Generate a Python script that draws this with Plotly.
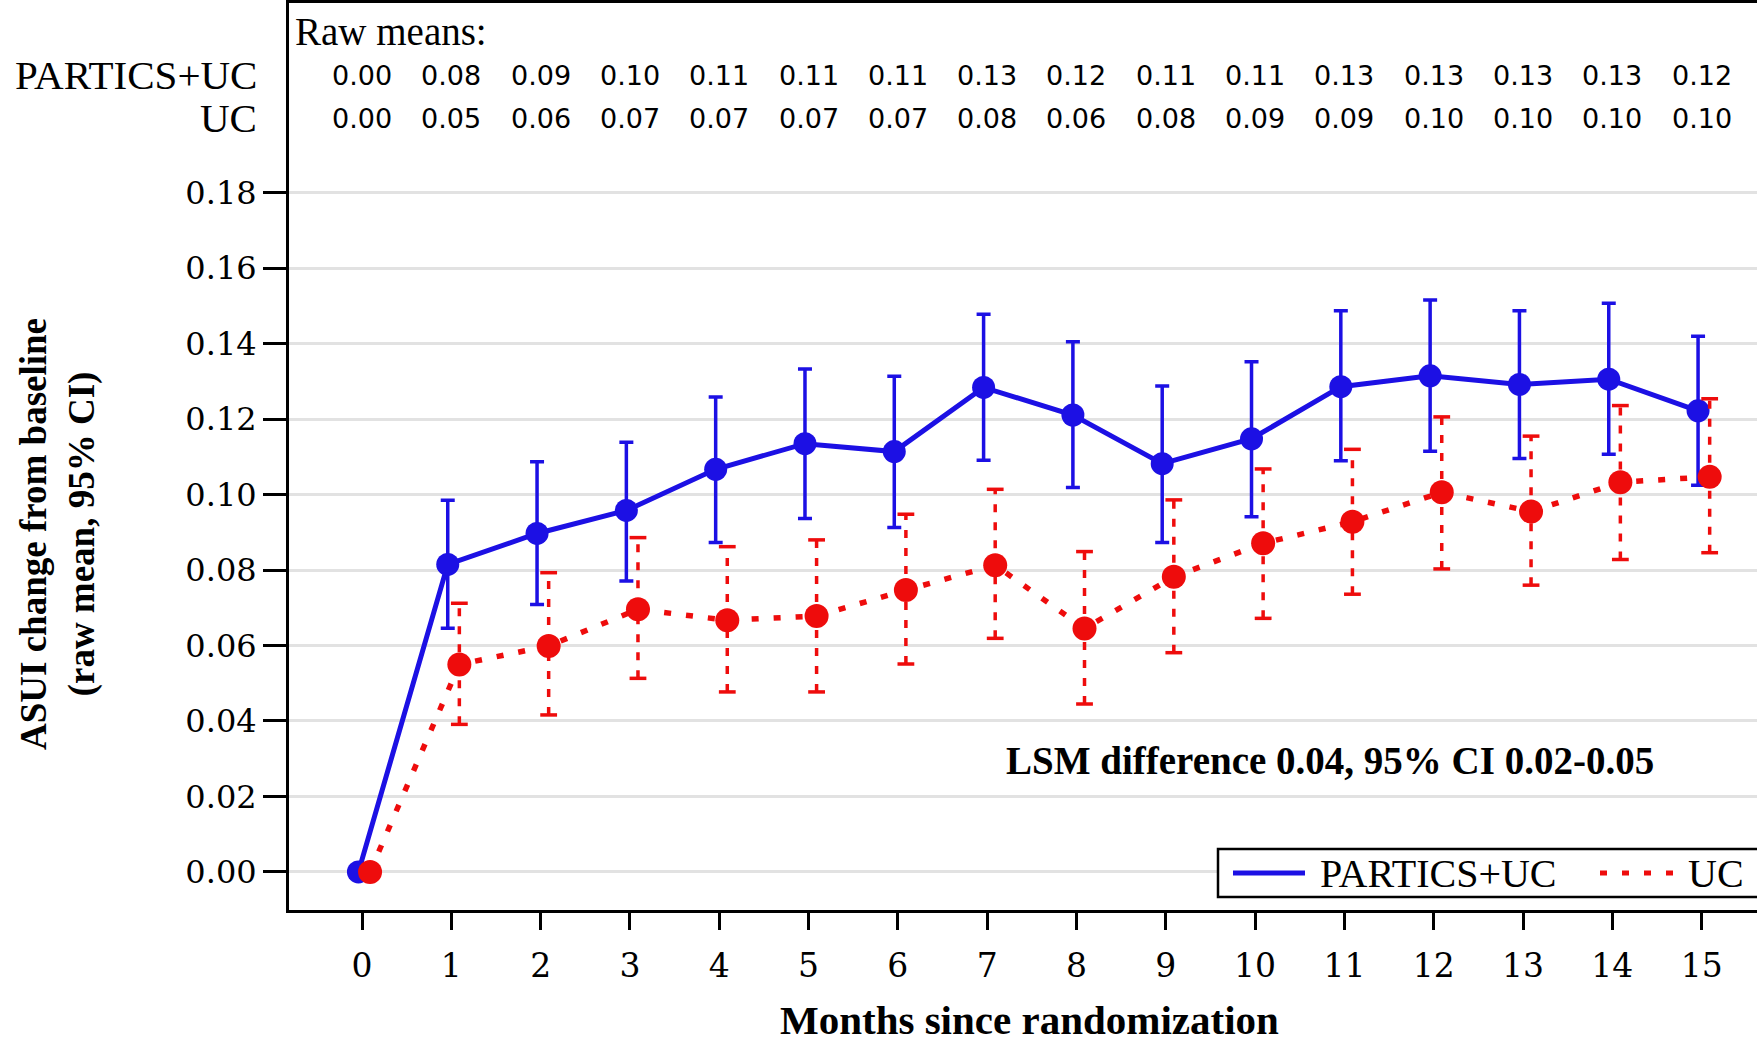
import plotly.graph_objects as go

# ---------------- data ----------------
months = list(range(16))
x_tick_labels = [str(m) for m in months]

partics_mean = [0.000, 0.0815, 0.0897, 0.0958, 0.1067, 0.1135, 0.1114, 0.1284,
                0.1211, 0.1082, 0.1148, 0.1286, 0.1315, 0.1292, 0.1306, 0.1222]
partics_upper = [0.000, 0.0985, 0.1087, 0.1139, 0.1259, 0.1333, 0.1314, 0.1478,
                 0.1405, 0.1288, 0.1352, 0.1487, 0.1516, 0.1487, 0.1507, 0.1420]
partics_lower = [0.000, 0.0646, 0.0709, 0.0771, 0.0873, 0.0937, 0.0913, 0.1091,
                 0.1019, 0.0873, 0.0941, 0.1090, 0.1115, 0.1096, 0.1107, 0.1025]

uc_mean = [0.000, 0.0550, 0.0599, 0.0696, 0.0667, 0.0678, 0.0747, 0.0813,
           0.0645, 0.0782, 0.0871, 0.0928, 0.1006, 0.0955, 0.1033, 0.1047]
uc_upper = [0.000, 0.0712, 0.0793, 0.0886, 0.0862, 0.0880, 0.0948, 0.1014,
            0.0849, 0.0986, 0.1068, 0.1120, 0.1206, 0.1155, 0.1236, 0.1254]
uc_lower = [0.000, 0.0391, 0.0416, 0.0513, 0.0477, 0.0477, 0.0551, 0.0619,
            0.0445, 0.0581, 0.0672, 0.0736, 0.0803, 0.0760, 0.0828, 0.0846]

raw_partics = ["0.00", "0.08", "0.09", "0.10", "0.11", "0.11", "0.11", "0.13",
               "0.12", "0.11", "0.11", "0.13", "0.13", "0.13", "0.13", "0.12"]
raw_uc = ["0.00", "0.05", "0.06", "0.07", "0.07", "0.07", "0.07", "0.08",
          "0.06", "0.08", "0.09", "0.09", "0.10", "0.10", "0.10", "0.10"]

y_tick_values = [0.00, 0.02, 0.04, 0.06, 0.08, 0.10, 0.12, 0.14, 0.16, 0.18]
y_tick_labels = ["0.00", "0.02", "0.04", "0.06", "0.08", "0.10", "0.12", "0.14", "0.16", "0.18"]

series_names = ["PARTICS+UC", "UC"]
annotation_text = "LSM difference 0.04, 95% CI 0.02-0.05"

# ---------------- style ----------------
W, H = 1757, 1045
ML, MR, MT, MB = 289, 0, 3, 135
BLUE = "rgb(28,16,228)"
RED = "rgb(238,12,12)"
SERIF = "Liberation Serif"
TICKFONT = "DejaVu Serif"
NUMFONT = "DejaVu Sans"
OFF_BLUE, OFF_RED = -0.04, 0.09

plot_h = H - MT - MB
plot_w = W - ML - MR


def py(pix):  # pixel row -> paper y
    return (H - MB - pix) / plot_h


def px(pix):  # pixel column -> paper x
    return (pix - ML) / plot_w


fig = go.Figure()

# blue series with error bars
err_plus = [(u - m) if u != m else None for u, m in zip(partics_upper, partics_mean)]
err_minus = [(m - l) if l != m else None for l, m in zip(partics_lower, partics_mean)]
fig.add_trace(go.Scatter(
    x=[m + OFF_BLUE for m in months], y=partics_mean, mode="lines+markers",
    line=dict(color=BLUE, width=5),
    marker=dict(color=BLUE, size=23),
    error_y=dict(type="data", array=err_plus, arrayminus=err_minus,
                 color=BLUE, thickness=3.5, width=7, symmetric=False),
    showlegend=False, name=series_names[0]))

# red dashed error bars
ex, ey = [], []
cx, cy = [], []
for m, lo, hi in zip(months, uc_lower, uc_upper):
    if hi == lo:
        continue
    ex += [m + OFF_RED, m + OFF_RED, None]
    ey += [lo, hi, None]
    cx += [m + OFF_RED, m + OFF_RED]
    cy += [lo, hi]
fig.add_trace(go.Scatter(x=ex, y=ey, mode="lines",
                         line=dict(color=RED, width=3.5, dash="8px,10px"),
                         showlegend=False, hoverinfo="skip"))
fig.add_trace(go.Scatter(x=cx, y=cy, mode="markers",
                         marker=dict(symbol="line-ew", size=12,
                                     line=dict(color=RED, width=3.5)),
                         showlegend=False, hoverinfo="skip"))
fig.add_trace(go.Scatter(
    x=[m + OFF_RED for m in months], y=uc_mean, mode="lines+markers",
    line=dict(color=RED, width=5.5, dash="7px,15px"),
    marker=dict(color=RED, size=24),
    showlegend=False, name=series_names[1]))

annotations = []
# raw means table
annotations.append(dict(xref="paper", yref="paper", x=px(293), y=py(31),
                        xanchor="left", yanchor="middle", showarrow=False,
                        text="Raw means:", font=dict(family=SERIF, size=39, color="black")))
annotations.append(dict(xref="paper", yref="paper", x=px(259), y=py(75),
                        xanchor="right", yanchor="middle", showarrow=False,
                        text=series_names[0], font=dict(family=SERIF, size=41, color="black")))
annotations.append(dict(xref="paper", yref="paper", x=px(259), y=py(118),
                        xanchor="right", yanchor="middle", showarrow=False,
                        text=series_names[1], font=dict(family=SERIF, size=41, color="black")))
for m, a, b in zip(months, raw_partics, raw_uc):
    annotations.append(dict(xref="x", yref="paper", x=m, y=py(76), xanchor="center",
                            yanchor="middle", showarrow=False, text=a,
                            font=dict(family=NUMFONT, size=27, color="black")))
    annotations.append(dict(xref="x", yref="paper", x=m, y=py(119), xanchor="center",
                            yanchor="middle", showarrow=False, text=b,
                            font=dict(family=NUMFONT, size=27, color="black")))

# LSM annotation
annotations.append(dict(xref="paper", yref="paper", x=px(1330), y=py(760),
                        xanchor="center", yanchor="middle", showarrow=False,
                        text="<b>" + annotation_text + "</b>",
                        font=dict(family=SERIF, size=39, color="black")))

# axis titles
annotations.append(dict(xref="paper", yref="paper", x=px(1029), y=py(1020),
                        xanchor="center", yanchor="middle", showarrow=False,
                        text="<b>Months since randomization</b>",
                        font=dict(family=SERIF, size=41, color="black")))
annotations.append(dict(xref="paper", yref="paper", x=px(58), y=py(534),
                        xanchor="center", yanchor="middle", showarrow=False,
                        textangle=-90,
                        text="<b>ASUI change from baseline<br>(raw mean, 95% CI)</b>",
                        font=dict(family=SERIF, size=37, color="black")))

# manual legend
shapes = [
    dict(type="rect", xref="paper", yref="paper", x0=px(1218), x1=px(1775),
         y0=py(897), y1=py(849), line=dict(color="black", width=2.5),
         fillcolor="white", layer="above"),
    dict(type="line", xref="paper", yref="paper", x0=px(1233), x1=px(1305),
         y0=py(873), y1=py(873), line=dict(color=BLUE, width=5), layer="above"),
    dict(type="line", xref="paper", yref="paper", x0=px(1600), x1=px(1678),
         y0=py(873), y1=py(873), line=dict(color=RED, width=5, dash="7px,15px"),
         layer="above"),
]
annotations.append(dict(xref="paper", yref="paper", x=px(1318), y=py(873),
                        xanchor="left", yanchor="middle", showarrow=False,
                        text=series_names[0],
                        font=dict(family=SERIF, size=40, color="black")))
annotations.append(dict(xref="paper", yref="paper", x=px(1686), y=py(873),
                        xanchor="left", yanchor="middle", showarrow=False,
                        text=series_names[1],
                        font=dict(family=SERIF, size=40, color="black")))

fig.update_layout(
    width=W, height=H,
    margin=dict(l=ML, r=MR, t=MT, b=MB, autoexpand=False),
    paper_bgcolor="white", plot_bgcolor="white",
    showlegend=False,
    annotations=annotations, shapes=shapes,
    xaxis=dict(range=[-0.8175, 15.62], tickvals=months, ticktext=x_tick_labels,
               showgrid=False, zeroline=False, showline=True, linecolor="black",
               linewidth=3, mirror=True, ticks="outside", ticklen=17, tickwidth=3,
               tickcolor="black", ticklabelstandoff=7,
               tickfont=dict(family=TICKFONT, size=33, color="black")),
    yaxis=dict(range=[-0.0101, 0.2303], tickvals=y_tick_values, ticktext=y_tick_labels,
               showgrid=True, gridcolor="#e2e2e2", gridwidth=2.5, zeroline=False,
               showline=True, linecolor="black", linewidth=3, ticks="outside",
               ticklen=23, tickwidth=3, tickcolor="black", ticklabelstandoff=0,
               tickfont=dict(family=TICKFONT, size=32, color="black")),
)

fig.write_html("out.html")
